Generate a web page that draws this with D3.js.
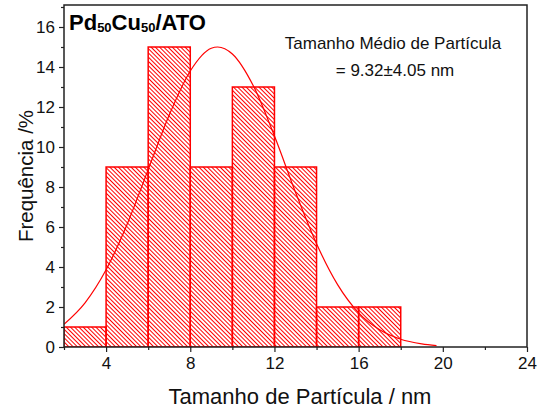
<!DOCTYPE html>
<html>
<head>
<meta charset="utf-8">
<script src="https://cdn.jsdelivr.net/npm/d3@7"></script>
<style>
  body { margin: 0; background: #fff; }
  svg { display: block; font-family: "Liberation Sans", Arial, sans-serif; }
</style>
</head>
<body>
<div id="chart"></div>
<script>
// histogram bins (nm) and frequency (%)
var binStarts = [2, 4, 6, 8, 10, 12, 14, 16];
var binWidth = 2;
var frequency = [1, 9, 15, 9, 13, 9, 2, 2];

// fitted curve
var fitX = [2, 3, 4, 5, 6, 7, 8, 9, 9.3, 10, 11, 12, 13, 14, 15, 16, 17, 18, 19, 19.7];
var fitY = [1.14, 2.21, 3.86, 6.14, 8.87, 11.6, 13.8, 14.94, 15, 14.65, 13.05, 10.55, 7.74, 5.16, 3.12, 1.71, 0.86, 0.39, 0.16, 0.07];

var xTicks = [4, 8, 12, 16, 20, 24];
var yTicks = [0, 2, 4, 6, 8, 10, 12, 14, 16];

var width = 558, height = 408;
var plotLeft = 64, plotRight = 527, plotTop = 5, plotBottom = 347;

var svg = d3.select('#chart').append('svg')
    .attr('width', width)
    .attr('height', height);

var x = d3.scaleLinear().domain([2, 24]).range([plotLeft, plotRight]);
var y = d3.scaleLinear().domain([0, 17.1]).range([plotBottom, plotTop]);

// hatch pattern
var defs = svg.append('defs');
var pat = defs.append('pattern')
    .attr('id', 'hatch')
    .attr('patternUnits', 'userSpaceOnUse')
    .attr('width', 3)
    .attr('height', 3)
    .attr('patternTransform', 'rotate(-45)');
pat.append('line')
    .attr('x1', 1.5).attr('y1', 0)
    .attr('x2', 1.5).attr('y2', 3)
    .attr('stroke', '#ff0000')
    .attr('stroke-width', 1);

var clip = defs.append('clipPath').attr('id', 'plotclip');
clip.append('rect')
    .attr('x', plotLeft).attr('y', plotTop)
    .attr('width', plotRight - plotLeft).attr('height', plotBottom - plotTop);

var plot = svg.append('g').attr('clip-path', 'url(#plotclip)');

plot.selectAll('rect.bar')
    .data(frequency)
    .enter().append('rect')
    .attr('class', 'bar')
    .attr('x', function (d, i) { return x(binStarts[i]); })
    .attr('y', function (d) { return y(d); })
    .attr('width', function (d, i) { return x(binStarts[i] + binWidth) - x(binStarts[i]); })
    .attr('height', function (d) { return y(0) - y(d); })
    .attr('fill', 'url(#hatch)')
    .attr('stroke', '#ff0000')
    .attr('stroke-width', 1.5);

var line = d3.line()
    .x(function (d) { return x(d[0]); })
    .y(function (d) { return y(d[1]); })
    .curve(d3.curveMonotoneX);

plot.append('path')
    .datum(d3.zip(fitX, fitY))
    .attr('d', line)
    .attr('fill', 'none')
    .attr('stroke', '#ff0000')
    .attr('stroke-width', 1.2);

// frame
svg.append('rect')
    .attr('x', plotLeft).attr('y', plotTop)
    .attr('width', plotRight - plotLeft).attr('height', plotBottom - plotTop)
    .attr('fill', 'none')
    .attr('stroke', '#222')
    .attr('stroke-width', 1.5);

// axes
svg.append('g')
    .attr('transform', 'translate(0,' + plotBottom + ')')
    .call(d3.axisBottom(x).tickValues(xTicks).tickSize(5).tickPadding(5));
svg.append('g')
    .attr('transform', 'translate(0,' + plotBottom + ')')
    .call(d3.axisBottom(x).tickValues([2, 6, 10, 14, 18, 22]).tickSize(3).tickFormat(''));

svg.append('g')
    .attr('transform', 'translate(' + plotLeft + ',0)')
    .call(d3.axisLeft(y).tickValues(yTicks).tickSize(5).tickPadding(4));
svg.append('g')
    .attr('transform', 'translate(' + plotLeft + ',0)')
    .call(d3.axisLeft(y).tickValues([1, 3, 5, 7, 9, 11, 13, 15, 17]).tickSize(3).tickFormat(''));

svg.selectAll('.domain').remove();
svg.selectAll('.tick line').attr('stroke', '#222').attr('stroke-width', 1.2);
svg.selectAll('.tick text')
    .attr('fill', '#111')
    .style('font-size', '17px')
    .style('font-family', '"Liberation Sans", Arial, sans-serif');

// axis titles
svg.append('text')
    .attr('x', 300)
    .attr('y', 404)
    .attr('text-anchor', 'middle')
    .style('font-size', '22px')
    .attr('fill', '#111')
    .text('Tamanho de Partícula / nm');

svg.append('text')
    .attr('transform', 'translate(33,176) rotate(-90)')
    .attr('text-anchor', 'middle')
    .style('font-size', '20.5px')
    .attr('fill', '#111')
    .text('Frequência /%');

// sample label
var title = svg.append('text')
    .attr('x', 69)
    .attr('y', 30)
    .style('font-size', '22px')
    .style('font-weight', 'bold')
    .attr('fill', '#000');
title.append('tspan').text('Pd');
title.append('tspan').attr('dy', 2).style('font-size', '13px').text('50');
title.append('tspan').attr('dy', -2).text('Cu');
title.append('tspan').attr('dy', 2).style('font-size', '13px').text('50');
title.append('tspan').attr('dy', -2).text('/ATO');

// mean size annotation
svg.append('text')
    .attr('x', 393)
    .attr('y', 49)
    .attr('text-anchor', 'middle')
    .style('font-size', '17px')
    .attr('fill', '#111')
    .text('Tamanho Médio de Partícula');
svg.append('text')
    .attr('x', 395)
    .attr('y', 76)
    .attr('text-anchor', 'middle')
    .style('font-size', '17px')
    .attr('fill', '#111')
    .text('= 9.32±4.05 nm');
</script>
</body>
</html>
